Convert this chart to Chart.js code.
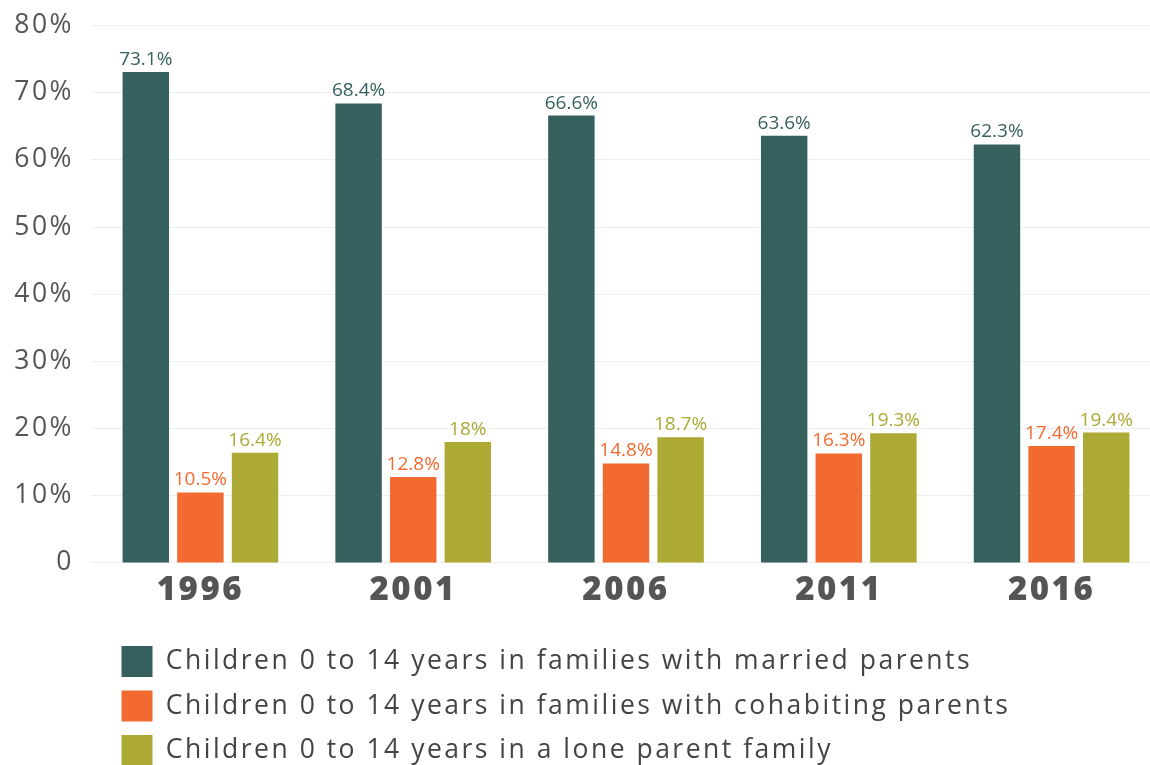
<!DOCTYPE html>
<html>
<head>
<meta charset="utf-8">
<script src="https://cdn.jsdelivr.net/npm/chart.js@4"></script>
<style>
  html, body { margin: 0; padding: 0; background: #fff; overflow: hidden; }
  #wrap { width: 1158px; height: 776px; position: relative; }
</style>
</head>
<body>
<div id="wrap"><canvas id="familyChart"></canvas></div>
<script>
// census years
const years = ['1996', '2001', '2006', '2011', '2016'];

// share of children 0-14 by family type (%)
const marriedParents = [73.1, 68.4, 66.6, 63.6, 62.3];
const cohabitingParents = [10.5, 12.8, 14.8, 16.3, 17.4];
const loneParent = [16.4, 18, 18.7, 19.3, 19.4];

const seriesNames = [
  'Children 0 to 14 years in families with married parents',
  'Children 0 to 14 years in families with cohabiting parents',
  'Children 0 to 14 years in a lone parent family'
];
const seriesColors = ['#35605e', '#f26a30', '#aca935'];

const FONT = '"Open Sans", sans-serif';

// canvas text tracking (Montserrat-like look)
const tracking = {
  id: 'tracking',
  beforeUpdate(chart) { chart.ctx.letterSpacing = '2.5px'; },
  beforeDraw(chart) { chart.ctx.letterSpacing = '2.5px'; },
  afterLayout(chart) {
    // move the stacked legend rows to the right
    chart.legend.left = 108;
  }
};

// values above the bars
const valueLabels = {
  id: 'valueLabels',
  afterDatasetsDraw(chart) {
    const ctx = chart.ctx;
    ctx.save();
    ctx.letterSpacing = '0px';
    ctx.font = '500 19px ' + FONT;
    ctx.textAlign = 'center';
    ctx.textBaseline = 'bottom';
    chart.data.datasets.forEach((ds, i) => {
      chart.getDatasetMeta(i).data.forEach((bar, j) => {
        ctx.fillStyle = ds.backgroundColor;
        ctx.fillText(ds.data[j] + '%', bar.x, bar.y - 3);
      });
    });
    ctx.restore();
  }
};

const ctx = document.getElementById('familyChart');

new Chart(ctx, {
  type: 'bar',
  data: {
    labels: years,
    datasets: [marriedParents, cohabitingParents, loneParent].map((vals, i) => ({
      label: seriesNames[i],
      data: vals,
      backgroundColor: seriesColors[i],
      borderWidth: 0,
      categoryPercentage: 0.77,
      barPercentage: 0.85
    }))
  },
  options: {
    responsive: true,
    maintainAspectRatio: false,
    animation: false,
    layout: { padding: { top: 0, left: 0, right: 0, bottom: 0 } },
    scales: {
      x: {
        grid: { display: false },
        border: { display: false },
        ticks: {
          color: '#555',
          padding: 0,
          font: { family: FONT, size: 33, weight: '800' }
        },
        afterFit: (scale) => { scale.height += 22; }
      },
      y: {
        min: 0,
        max: 80,
        grid: { color: '#eeeeee', tickLength: 3 },
        border: { display: false },
        ticks: {
          stepSize: 10,
          color: '#555',
          padding: 17,
          font: { family: FONT, size: 26.5, weight: '500', lineHeight: 0.65 },
          callback: (v) => v === 0 ? '0' : v + '%'
        },
        afterFit: (scale) => { scale.width = 94; }
      }
    },
    plugins: {
      tooltip: { enabled: false },
      legend: {
        position: 'bottom',
        align: 'start',
        labels: {
          boxWidth: 31,
          boxHeight: 31,
          padding: 13.5,
          color: '#444',
          font: { family: FONT, size: 26.5, weight: '500' }
        }
      }
    }
  },
  plugins: [tracking, valueLabels]
});
</script>
</body>
</html>
